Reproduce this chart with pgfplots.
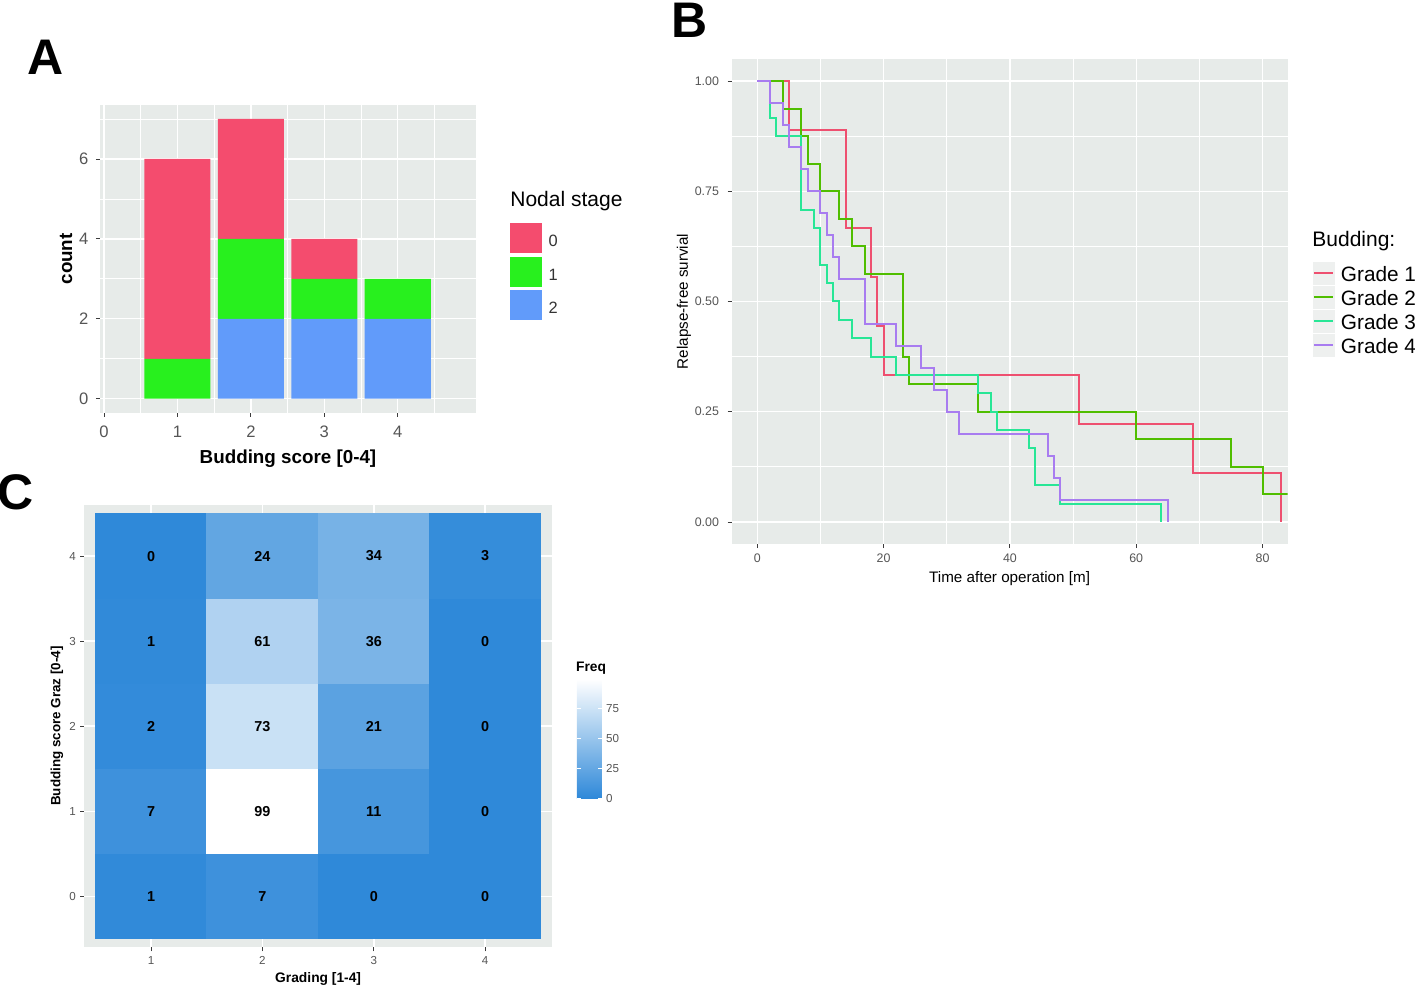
\documentclass[border=0pt]{standalone}
\usepackage{pgfplots}
\usepackage{pgfplotstable}
\pgfplotsset{compat=1.18}
\usepackage{fontspec}
\setmainfont{Liberation Sans}
\definecolor{ggbg}{RGB}{231,235,233}
\definecolor{tickgray}{RGB}{85,85,85}
\definecolor{tickmark}{RGB}{60,60,60}
\definecolor{nsA}{RGB}{244,76,110}
\definecolor{nsB}{RGB}{40,240,30}
\definecolor{nsC}{RGB}{97,155,250}
\definecolor{gA}{RGB}{238,80,112}
\definecolor{gB}{RGB}{80,190,0}
\definecolor{gC}{RGB}{40,230,150}
\definecolor{gD}{RGB}{168,124,240}
\definecolor{keybg}{RGB}{238,240,239}

\pgfplotsset{
  ggaxis/.style={
    scale only axis,
    anchor=south west,
    axis background/.style={fill=ggbg},
    axis line style={draw=none},
    grid=both,
    major grid style={white, line width=0.7pt},
    minor grid style={white, line width=0.35pt},
    tick align=outside,
    xtick pos=bottom, ytick pos=left,
    tick style={tickmark, line width=0.4pt},
    major tick length=2pt,
    minor tick length=0pt,
    /pgf/number format/assume math mode=true,
  },
}

\pgfplotstableread{
x y C
1 0 1
2 0 7
3 0 0
4 0 0
1 1 7
2 1 99
3 1 11
4 1 0
1 2 2
2 2 73
3 2 21
4 2 0
1 3 1
2 3 61
3 3 36
4 3 0
1 4 0
2 4 24
3 4 34
4 4 3
}\heat

\begin{document}
\begin{tikzpicture}
\path[use as bounding box] (0,0) rectangle (707.5pt,493.5pt);

% ---------------- Panel A ----------------
\begin{axis}[ggaxis,
  at={(50pt,287.15pt)}, width=188pt, height=153.85pt,
  xmin=-0.054, xmax=5.065, ymin=-0.35, ymax=7.35,
  xtick={0,1,2,3,4}, ytick={0,2,4,6},
  minor xtick={0.5,1.5,2.5,3.5,4.5}, minor ytick={1,3,5,7},
  ybar stacked, bar width=0.9, bar shift=0pt,
  ticklabel style={text=tickgray, font=\fontsize{8.3}{9}\selectfont, inner sep=0pt},
  xticklabel style={anchor=north, yshift=-4.6pt},
  yticklabel style={anchor=east, xshift=-3.6pt},
  xlabel={Budding score [0-4]},
  ylabel={count},
  xlabel style={font=\bfseries\fontsize{9.4}{10}\selectfont, at={(axis description cs:0.5,-0.150)}, anchor=center},
  ylabel style={font=\bfseries\fontsize{9.4}{10}\selectfont, at={(axis description cs:-0.090,0.5)}, anchor=center},
]
\addplot[fill=nsC, draw=none] coordinates {(1,0) (2,2) (3,2) (4,2)};
\addplot[fill=nsB, draw=none] coordinates {(1,1) (2,2) (3,1) (4,1)};
\addplot[fill=nsA, draw=none] coordinates {(1,5) (2,3) (3,1) (4,0)};
\end{axis}

% ---------------- Panel B ----------------
\begin{axis}[ggaxis,
  at={(365.85pt,221.5pt)}, width=277.9pt, height=242.5pt,
  xmin=-4.05, xmax=83.96, ymin=-0.05, ymax=1.05,
  xtick={0,20,40,60,80}, minor xtick={10,30,50,70},
  ytick={0,0.25,0.5,0.75,1}, minor ytick={0.125,0.375,0.625,0.875},
  ticklabel style={text=tickgray, font=\fontsize{6.2}{7}\selectfont, inner sep=0pt},
  xticklabel style={anchor=north, yshift=-2.6pt},
  yticklabel style={anchor=east, xshift=-4.2pt, /pgf/number format/.cd, fixed, fixed zerofill, precision=2},
  xlabel={Time after operation [m]},
  ylabel={Relapse-free survial},
  xlabel style={font=\fontsize{7.6}{9}\selectfont, at={(axis description cs:0.5,-0.071)}, anchor=center},
  ylabel style={font=\fontsize{7.6}{9}\selectfont, at={(axis description cs:-0.0858,0.5)}, anchor=center},
]
\addplot[const plot, gA, line width=1pt] coordinates {
(0,1) (5,0.8889) (14,0.6667) (18,0.5556) (19,0.4444) (20,0.3333) (51,0.2222) (69,0.1111) (83,0)};
\addplot[const plot, gB, line width=1pt] coordinates {
(0,1) (4,0.9375) (7,0.875) (8,0.8125) (10,0.75) (13,0.6875) (15,0.625) (17,0.5625) (23,0.375) (24,0.3125) (35,0.25) (60,0.1875) (75,0.125) (80,0.0625) (85,0.0625)};
\addplot[const plot, gC, line width=1pt] coordinates {
(0,1) (2,0.9167) (3,0.875) (7,0.7083) (9,0.6667) (10,0.5833) (11,0.5417) (12,0.5) (13,0.4583) (15,0.4167) (18,0.375) (22,0.3333) (35,0.2917) (37,0.25) (38,0.2083) (43,0.1667) (44,0.0833) (48,0.0417) (64,0)};
\addplot[const plot, gD, line width=1pt] coordinates {
(0,1) (2,0.95) (4,0.9) (5,0.85) (7,0.8) (8,0.75) (10,0.7) (11,0.65) (12,0.6) (13,0.55) (17,0.45) (22,0.4) (26,0.35) (28,0.3) (30,0.25) (32,0.2) (46,0.15) (47,0.1) (48,0.05) (65,0)};
\end{axis}

% ---------------- Panel C ----------------
\begin{axis}[ggaxis, grid=major,
  at={(42.15pt,19.85pt)}, width=233.85pt, height=221.15pt,
  xmin=0.4, xmax=4.6, ymin=-0.6, ymax=4.6,
  xtick={1,2,3,4}, ytick={0,1,2,3,4},
  ticklabel style={text=tickgray, font=\fontsize{5.8}{7}\selectfont, inner sep=0pt},
  xticklabel style={anchor=north, yshift=-2.5pt},
  yticklabel style={anchor=east, xshift=-2pt},
  xlabel={Grading [1-4]},
  ylabel={Budding score Graz [0-4]},
  xlabel style={font=\bfseries\fontsize{6.9}{8}\selectfont, at={(axis description cs:0.5,-0.0717)}, anchor=center},
  ylabel style={font=\bfseries\fontsize{6.7}{8}\selectfont, at={(axis description cs:-0.0584,0.5)}, anchor=center},
  colormap={freq}{rgb255=(47,137,217) rgb255=(255,255,255)},
  point meta min=0, point meta max=99,
  colorbar,
  colorbar style={
    at={(parent axis.south east)}, anchor=south west,
    xshift=3.85pt, yshift=74.5pt,
    scale only axis, width=12.5pt, height=59.5pt,
    ytick={0,25,50,75},
    ytick pos=both, yticklabel pos=right,
    tick align=inside, major tick length=2pt,
    tick style={white, line width=0.6pt},
    axis line style={draw=none},
    /pgf/number format/assume math mode=true,
    yticklabel style={text=tickgray, font=\fontsize{5.8}{7}\selectfont, inner sep=0pt, xshift=2pt},
    title={Freq},
    title style={at={(axis description cs:0,1)}, anchor=base west, yshift=-2.3pt, xshift=-0.5pt, inner sep=0pt, font=\bfseries\fontsize{6.9}{8}\selectfont},
  },
]
\addplot[matrix plot*, mesh/cols=4, point meta=explicit] table[x=x, y=y, meta=C] {\heat};
\addplot[only marks, mark=none, point meta=explicit symbolic, nodes near coords,
  nodes near coords style={anchor=center, font=\bfseries\fontsize{7.2}{8}\selectfont, text=black}]
  table[x=x, y=y, meta=C] {\heat};
\end{axis}

% ---------------- Labels and legends ----------------
\begin{scope}[x=0.5pt, y=-0.5pt, shift={(0pt,493.5pt)}]
\node[font=\bfseries\fontsize{25}{30}\selectfont] at (45.3,57.5) {A};
\node[font=\bfseries\fontsize{25}{30}\selectfont] at (690,20) {B};
\node[font=\bfseries\fontsize{25}{30}\selectfont] at (16,492) {C};

% legend A
\node[anchor=base west, inner sep=0pt, font=\fontsize{10.5}{12}\selectfont] at (510,206.7) {Nodal stage};
\fill[nsA] (510,222.7) rectangle (541.7,252.7);
\fill[nsB] (510,257.3) rectangle (541.7,287.3);
\fill[nsC] (510,290.3) rectangle (541.7,320.3);
\node[anchor=base west, inner sep=0pt, text=black!80, font=\fontsize{8.2}{9}\selectfont] at (548.3,246.7) {0};
\node[anchor=base west, inner sep=0pt, text=black!80, font=\fontsize{8.2}{9}\selectfont] at (548.3,280.7) {1};
\node[anchor=base west, inner sep=0pt, text=black!80, font=\fontsize{8.2}{9}\selectfont] at (548.3,313.3) {2};

% legend B
\node[anchor=base west, inner sep=0pt, font=\fontsize{10.5}{12}\selectfont] at (1312,247) {Budding:};
\foreach \c/\yy/\lab in {gA/273.5/Grade 1, gB/297.5/Grade 2, gC/321.5/Grade 3, gD/345.5/Grade 4}{
  \fill[keybg] (1312.5,\yy-11.5) rectangle (1334.5,\yy+11.5);
  \draw[\c, line width=1pt] (1314,\yy) -- (1333,\yy);
  \node[anchor=base west, inner sep=0pt, font=\fontsize{10.4}{12}\selectfont] at (1340.5,\yy+8.5) {\lab};
}
\end{scope}
\end{tikzpicture}
\end{document}
